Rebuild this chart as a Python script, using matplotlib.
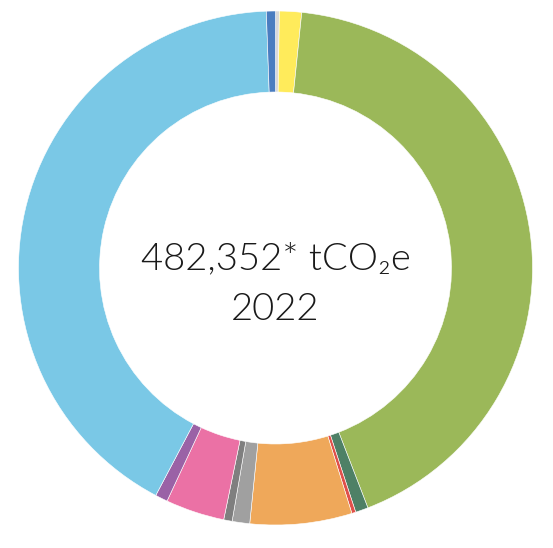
import matplotlib
matplotlib.use("Agg")
import matplotlib.pyplot as plt

# share of total emissions (%), clockwise from 12 o'clock
labels = ["grey_top", "yellow", "green", "dark_green", "red", "orange",
          "light_grey", "dark_grey", "pink", "purple", "light_blue", "blue"]
values = [0.24, 1.39, 42.5, 0.8, 0.25, 6.4, 1.1, 0.53, 3.7, 0.78, 41.7, 0.57]
colors = ["#D9D9D9", "#FFEB5B", "#9BB859", "#4E8066", "#E0504A", "#EFA85A",
          "#A0A0A0", "#7F7F7F", "#EB71A5", "#9A62A6", "#7AC8E6", "#4A7DC0"]

total_text = "482,352* tCO\u2082e"
year_text = "2022"

fig = plt.figure(figsize=(5.53, 5.48), dpi=100)
ax = fig.add_axes([0, 0, 1, 1])

# work in pixel units, centre of the ring at (275.5, 268) from top-left
cx, cy = 275.5, 268
ax.set_xlim(-cx, 553 - cx)
ax.set_ylim(-(548 - cy), cy)
ax.set_aspect("equal")
ax.axis("off")

ax.pie(values, colors=colors, radius=257, startangle=90, counterclock=False,
       wedgeprops=dict(width=81, linewidth=0.4, edgecolor="white"))

ax.set_xlim(-cx, 553 - cx)
ax.set_ylim(-(548 - cy), cy)

fam = ["Lato", "DejaVu Sans"]
ax.text(0, 9, total_text, ha="center", va="center", fontsize=27.5,
        color="#1a1a1a", family=fam, fontweight=300)
ax.text(0, -42, year_text, ha="center", va="center", fontsize=27.5,
        color="#1a1a1a", family=fam, fontweight=300)

fig.savefig("out.png", dpi=100)
